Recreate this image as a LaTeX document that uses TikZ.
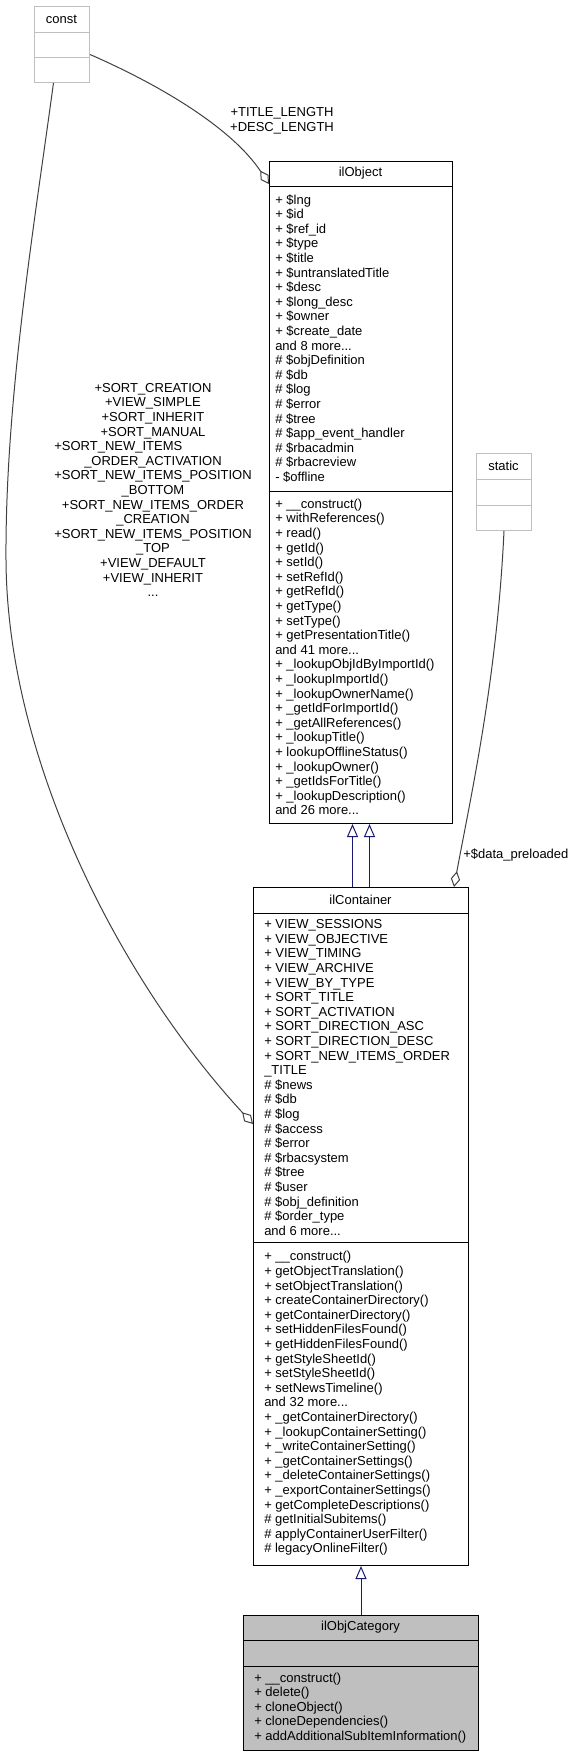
\documentclass[tikz,border=0pt]{standalone}
\usepackage{fontspec}
\setmainfont{Liberation Sans}
\usetikzlibrary{arrows.meta}
\definecolor{navyline}{HTML}{191970}
\definecolor{boxgray}{HTML}{BFBFBF}
\definecolor{linkgray}{HTML}{404040}

\begin{document}
\begin{tikzpicture}[x=0.75pt, y=-0.75pt,
    classbox/.style={draw=black, line width=0.75pt, rectangle, inner sep=0pt, anchor=north west},
    ghostbox/.style={classbox, draw=boxgray},
    title/.style={font=\fontsize{9.75}{10.95}\selectfont, inner sep=0pt},
    members/.style={font=\fontsize{9.75}{10.95}\selectfont, align=left, inner sep=0pt, anchor=west},
    lbl/.style={font=\fontsize{9.75}{10.95}\selectfont, align=center, inner sep=0pt},
    inherit/.style={draw=navyline, line width=0.75pt, -{Triangle[open, length=9.75pt, width=8.25pt]}},
    aggr/.style={draw=linkgray, line width=0.75pt, -{Diamond[open, length=12pt, width=7pt]}}]
    \useasboundingbox (0,0) rectangle (571,1756);

    % const (external)
    \node[ghostbox, minimum width=41.25pt, minimum height=57pt] (const) at (34,6) {};
    \draw[boxgray, line width=0.75pt] (34,32) -- (89,32) (34,57) -- (89,57);
    \node[title] (const-title) at (61.5,19) {const};

    % static (external)
    \node[ghostbox, minimum width=41.25pt, minimum height=57.75pt] (static) at (476,453) {};
    \draw[boxgray, line width=0.75pt] (476,479) -- (531,479) (476,505) -- (531,505);
    \node[title] (static-title) at (503.5,466) {static};

    % ilObject
    \node[classbox, minimum width=137.25pt, minimum height=496.5pt] (ilobject) at (269,161) {};
    \draw[line width=0.75pt] (269,186) -- (452,186) (269,491) -- (452,491);
    \node[title] (ilobject-title) at (360.5,173.5) {ilObject};
    \node[members] (ilobject-attr) at (275,338.5) {+ \$lng\\+ \$id\\+ \$ref\_id\\+ \$type\\+ \$title\\+ \$untranslatedTitle\\+ \$desc\\+ \$long\_desc\\+ \$owner\\+ \$create\_date\\and 8 more...\\\# \$objDefinition\\\# \$db\\\# \$log\\\# \$error\\\# \$tree\\\# \$app\_event\_handler\\\# \$rbacadmin\\\# \$rbacreview\\- \$offline};
    \node[members] (ilobject-ops) at (275,657) {+ \_\_construct()\\+ withReferences()\\+ read()\\+ getId()\\+ setId()\\+ setRefId()\\+ getRefId()\\+ getType()\\+ setType()\\+ getPresentationTitle()\\and 41 more...\\+ \_lookupObjIdByImportId()\\+ \_lookupImportId()\\+ \_lookupOwnerName()\\+ \_getIdForImportId()\\+ \_getAllReferences()\\+ \_lookupTitle()\\+ lookupOfflineStatus()\\+ \_lookupOwner()\\+ \_getIdsForTitle()\\+ \_lookupDescription()\\and 26 more...};

    % ilContainer
    \node[classbox, minimum width=161.25pt, minimum height=508.5pt] (ilcontainer) at (253,887) {};
    \draw[line width=0.75pt] (253,913) -- (468,913) (253,1242) -- (468,1242);
    \node[title] (ilcontainer-title) at (360.5,900) {ilContainer};
    \node[members] (ilcontainer-attr) at (264,1077.5) {+ VIEW\_SESSIONS\\+ VIEW\_OBJECTIVE\\+ VIEW\_TIMING\\+ VIEW\_ARCHIVE\\+ VIEW\_BY\_TYPE\\+ SORT\_TITLE\\+ SORT\_ACTIVATION\\+ SORT\_DIRECTION\_ASC\\+ SORT\_DIRECTION\_DESC\\+ SORT\_NEW\_ITEMS\_ORDER\\\_TITLE\\\# \$news\\\# \$db\\\# \$log\\\# \$access\\\# \$error\\\# \$rbacsystem\\\# \$tree\\\# \$user\\\# \$obj\_definition\\\# \$order\_type\\and 6 more...};
    \node[members] (ilcontainer-ops) at (264,1403.5) {+ \_\_construct()\\+ getObjectTranslation()\\+ setObjectTranslation()\\+ createContainerDirectory()\\+ getContainerDirectory()\\+ setHiddenFilesFound()\\+ getHiddenFilesFound()\\+ getStyleSheetId()\\+ setStyleSheetId()\\+ setNewsTimeline()\\and 32 more...\\+ \_getContainerDirectory()\\+ \_lookupContainerSetting()\\+ \_writeContainerSetting()\\+ \_getContainerSettings()\\+ \_deleteContainerSettings()\\+ \_exportContainerSettings()\\+ getCompleteDescriptions()\\\# getInitialSubitems()\\\# applyContainerUserFilter()\\\# legacyOnlineFilter()};

    % ilObjCategory
    \node[classbox, fill=boxgray, minimum width=176.25pt, minimum height=101.25pt] (ilobjcat) at (243,1615) {};
    \draw[line width=0.75pt] (243,1640) -- (478,1640) (243,1666) -- (478,1666);
    \node[title] (ilobjcat-title) at (360.5,1627.5) {ilObjCategory};
    \node[members] (ilobjcat-ops) at (254,1708) {+ \_\_construct()\\+ delete()\\+ cloneObject()\\+ cloneDependencies()\\+ addAdditionalSubItemInformation()};

    % Inheritance
    \draw[inherit] ([xshift=-6.375pt]ilcontainer.north) -- ([xshift=-6.375pt]ilobject.south);
    \draw[inherit] ([xshift=6.375pt]ilcontainer.north) -- ([xshift=6.375pt]ilobject.south);
    \draw[inherit] (ilobjcat.north) -- (ilcontainer.south);

    % Usage (aggregation)
    \draw[aggr] ([yshift=-7.5pt]const.east) .. controls (160,85) and (232,128) .. ([yshift=-17.25pt]ilobject.north west);
    \node[lbl] (const-obj-lbl) at (282,120.5) {+TITLE\_LENGTH\\+DESC\_LENGTH};
    \draw[aggr] ([xshift=-6.4pt]const.south) .. controls (35,220) and (5,400) .. (6,560) .. controls (7,760) and (120,980) .. ([yshift=-177.75pt]ilcontainer.north west);
    \node[lbl] (const-cont-lbl) at (153,490) {+SORT\_CREATION\\+VIEW\_SIMPLE\\+SORT\_INHERIT\\+SORT\_MANUAL\\+SORT\_NEW\_ITEMS\rule{52pt}{0pt}\\\_ORDER\_ACTIVATION\\+SORT\_NEW\_ITEMS\_POSITION\\\_BOTTOM\\+SORT\_NEW\_ITEMS\_ORDER\\\_CREATION\\+SORT\_NEW\_ITEMS\_POSITION\\\_TOP\\+VIEW\_DEFAULT\\+VIEW\_INHERIT\\...};
    \draw[aggr] (static.south) .. controls (497,680) and (470,800) .. ([xshift=-11.25pt]ilcontainer.north east);
    \node[lbl, anchor=west] (static-lbl) at (463,855) {+\$data\_preloaded};
\end{tikzpicture}
\end{document}
